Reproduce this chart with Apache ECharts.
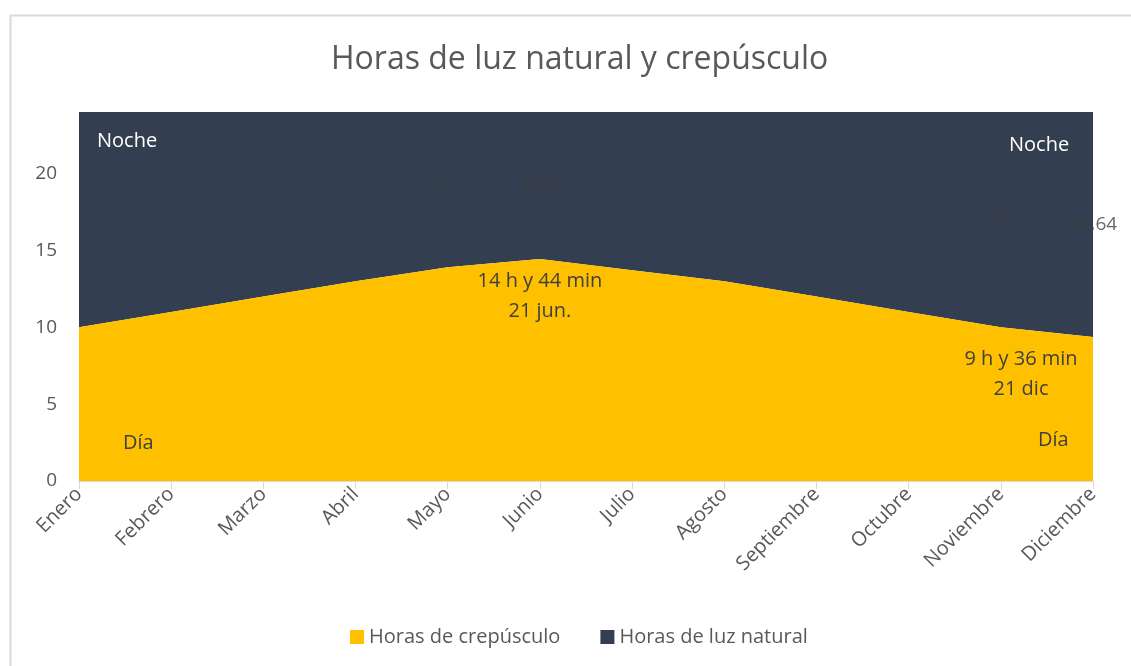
<!DOCTYPE html>
<html>
<head>
<meta charset="utf-8">
<title>Horas de luz natural y crepúsculo</title>
<script src="https://cdn.jsdelivr.net/npm/echarts@6/dist/echarts.min.js"></script>
<style>
  html, body { margin: 0; padding: 0; background: #fff; }
  #chart { width: 1131px; height: 666px; }
</style>
</head>
<body>
<div id="chart"></div>
<script>
// datos
const months = ['Enero', 'Febrero', 'Marzo', 'Abril', 'Mayo', 'Junio', 'Julio',
  'Agosto', 'Septiembre', 'Octubre', 'Noviembre', 'Diciembre']
const crepusculo = [10, 11, 12, 13, 13.9, 14.44, 13.7, 13, 12, 11, 10, 9.36]
const luzNatural = [14, 13, 12, 11, 10.1, 9.56, 10.3, 11, 12, 13, 14, 14.64]
const yTicks = [0, 5, 10, 15, 20]
const firstLabelled = 4 // las etiquetas de luz natural empiezan en Mayo

const gray = '#595959'
const font = '"Open Sans", "DejaVu Sans", sans-serif'
const fmt = v => String(v).replace('.', ',')

const chart = echarts.init(document.getElementById('chart'))

const noteLabel = {
  show: true, position: 'bottom',
  color: '#404040', fontSize: 20, lineHeight: 30, fontFamily: font
}

// etiquetas del área amarilla (junio y diciembre)
const crepData = crepusculo.map((v, i) => {
  if (months[i] === 'Junio') {
    return { value: v, label: { ...noteLabel, distance: 7, formatter: '14 h y 44 min\n21 jun.' } }
  }
  if (months[i] === 'Diciembre') {
    return { value: v, label: { ...noteLabel, distance: 7, offset: [-72, 0], formatter: '9 h y 36 min\n21 dic' } }
  }
  return v
})

// etiquetas de luz natural, centradas en la banda oscura
const midLabels = luzNatural.map((v, i) =>
  i >= firstLabelled ? [i, crepusculo[i] + v / 2, v] : null
).filter(Boolean)

const option = {
  animation: false,
  title: {
    text: 'Horas de luz natural y crepúsculo',
    left: 326,
    top: 39,
    textStyle: { color: gray, fontSize: 32, fontWeight: 'normal', fontFamily: font }
  },
  legend: {
    data: ['Horas de crepúsculo', 'Horas de luz natural'],
    left: 345,
    top: 622,
    icon: 'rect',
    itemWidth: 14,
    itemHeight: 14,
    itemGap: 40,
    itemStyle: { borderWidth: 0 },
    textStyle: { color: gray, fontSize: 20, fontFamily: font }
  },
  grid: { left: 79, right: 38, top: 112, bottom: 185, containLabel: false },
  xAxis: {
    type: 'category',
    data: months,
    boundaryGap: false,
    axisLine: { lineStyle: { color: '#d9d9d9', width: 1 } },
    axisTick: { show: true, length: 8, lineStyle: { color: '#d9d9d9' } },
    axisLabel: { rotate: 45, margin: 10, color: gray, fontSize: 20, fontFamily: font },
    splitLine: { show: false }
  },
  yAxis: {
    type: 'value',
    min: 0,
    max: 24,
    interval: 5,
    axisLine: { show: false },
    axisTick: { show: false },
    splitLine: { show: false },
    axisLabel: {
      margin: 22, color: gray, fontSize: 19, fontFamily: font,
      formatter: v => (yTicks.includes(v) ? String(v) : '')
    }
  },
  series: [
    {
      name: 'Horas de crepúsculo',
      type: 'line',
      stack: 'total',
      data: crepData,
      showSymbol: true,
      symbol: 'circle',
      symbolSize: 0,
      lineStyle: { width: 0 },
      itemStyle: { color: '#FFC000' },
      areaStyle: { color: '#FFC000', opacity: 1 },
      z: 2
    },
    {
      name: 'Horas de luz natural',
      type: 'line',
      stack: 'total',
      data: luzNatural,
      showSymbol: false,
      symbol: 'none',
      lineStyle: { width: 0 },
      itemStyle: { color: '#333F50' },
      areaStyle: { color: '#333F50', opacity: 1 },
      z: 1
    },
    {
      name: 'etiquetas',
      type: 'scatter',
      data: midLabels,
      symbolSize: 0,
      silent: true,
      z: 5,
      label: {
        show: true,
        position: 'inside',
        formatter: p => fmt(p.data[2]),
        color: '#404040',
        fontSize: 19,
        fontFamily: font
      }
    }
  ],
  graphic: [
    {
      type: 'rect', left: 8, top: 13, silent: true,
      shape: { width: 1140, height: 680 },
      style: { fill: 'none', stroke: '#d9d9d9', lineWidth: 2 },
      z: -10
    },
    {
      type: 'text', left: 97, top: 131,
      style: { text: 'Noche', fill: '#ffffff', fontSize: 20, fontFamily: font }, z: 10
    },
    {
      type: 'text', left: 1009, top: 135,
      style: { text: 'Noche', fill: '#ffffff', fontSize: 20, fontFamily: font }, z: 10
    },
    {
      type: 'text', left: 123, top: 433,
      style: { text: 'Día', fill: '#404040', fontSize: 20, fontFamily: font }, z: 10
    },
    {
      type: 'text', left: 1038, top: 430,
      style: { text: 'Día', fill: '#404040', fontSize: 20, fontFamily: font }, z: 10
    }
  ]
}

chart.setOption(option)
</script>
</body>
</html>
